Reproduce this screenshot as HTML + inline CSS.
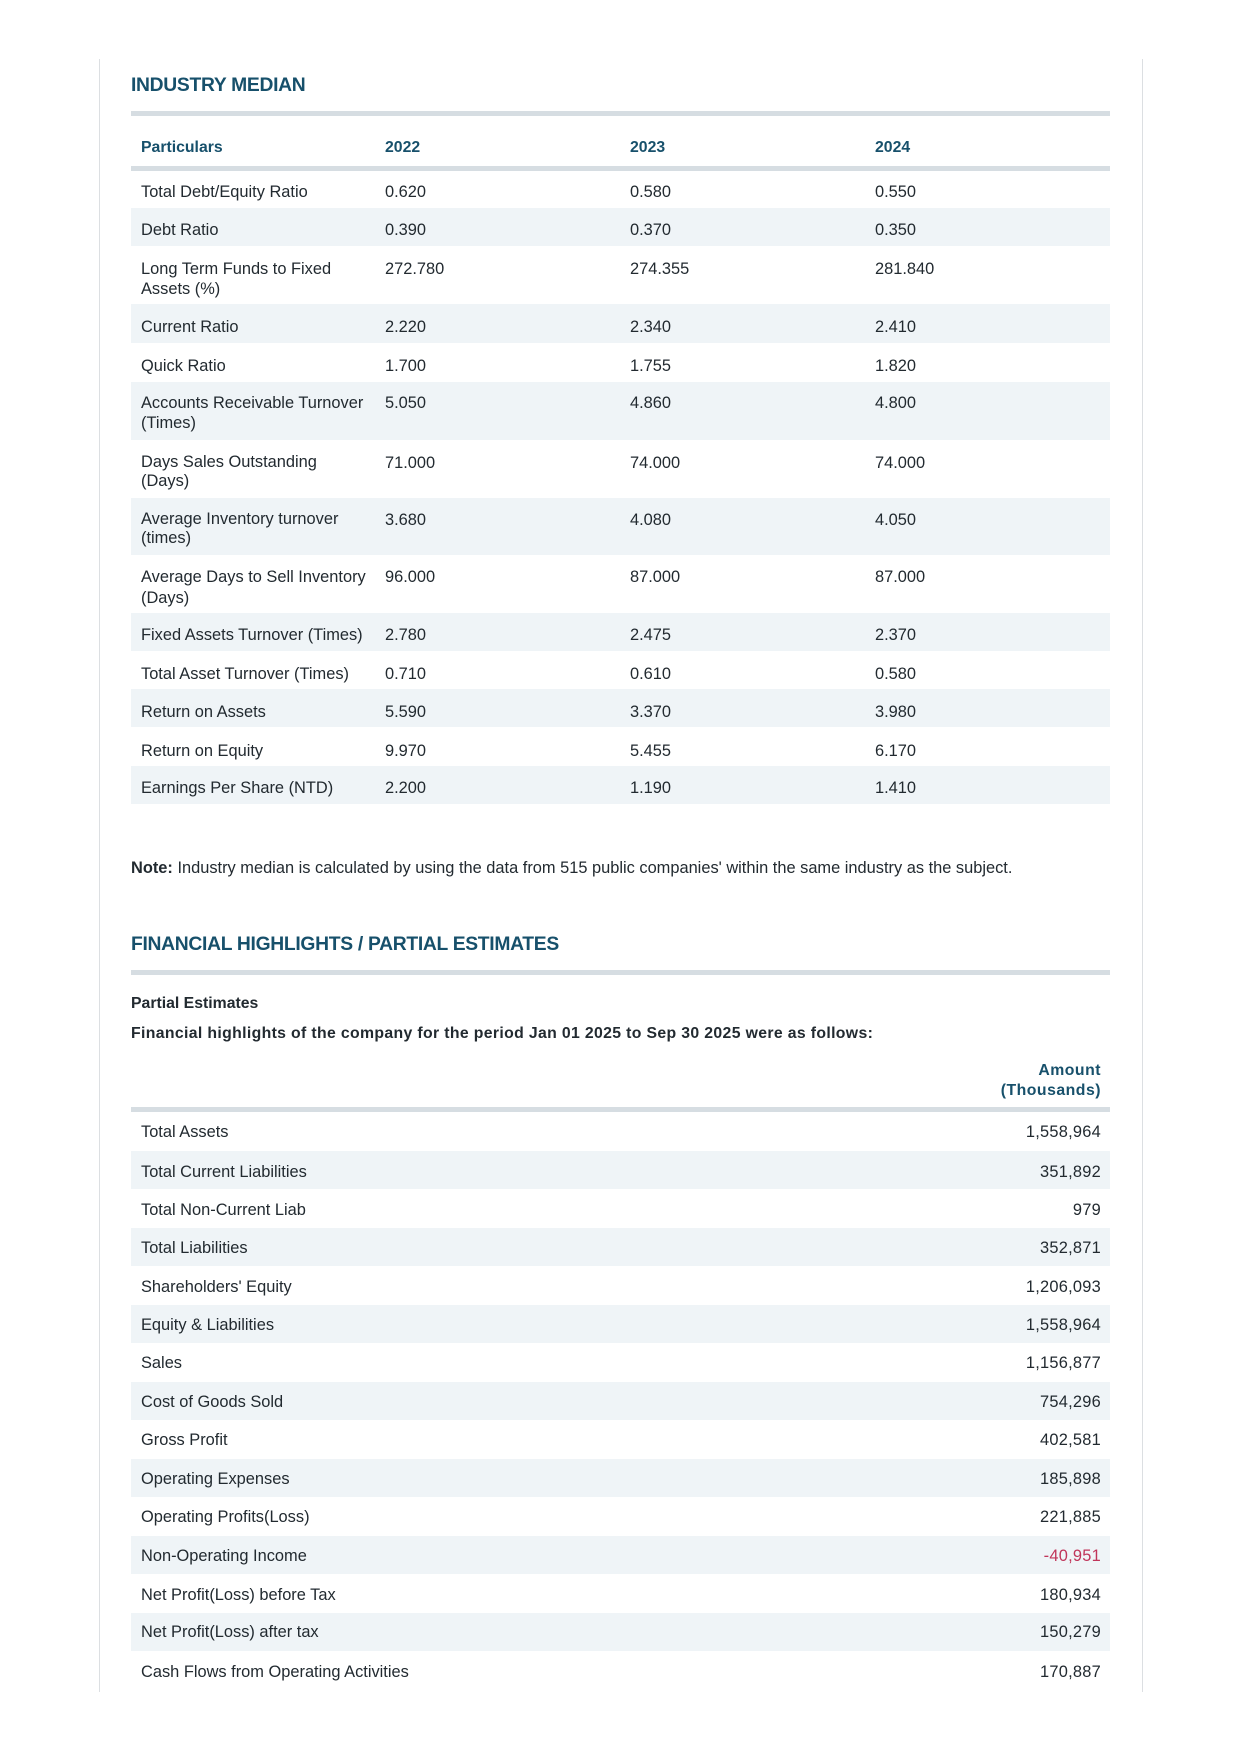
<!DOCTYPE html>
<html><head><meta charset="utf-8"><style>
*{margin:0;padding:0;box-sizing:border-box}
body{width:1240px;height:1754px;background:#fff;position:relative;font-family:"Liberation Sans",sans-serif;color:#222a30;overflow:hidden}
.a{position:absolute;white-space:nowrap;margin-top:3px}
.vb{position:absolute;top:59px;height:1633px;width:1px;background:#dcdfe2}
.h{font-weight:bold;color:#17506b;font-size:19.3px;letter-spacing:-0.3px}
.rule{position:absolute;left:131px;width:979px;height:5px;background:#d6dde2}
.band{position:absolute;left:131px;width:979px;background:#eff4f7}
.t{font-size:16.4px;line-height:20px}
.th{font-size:15.8px;font-weight:bold;color:#17506b}
.r{text-align:right;right:139px;letter-spacing:0.25px}
</style></head><body>
<div class="vb" style="left:99px"></div>
<div class="vb" style="left:1142px"></div>

<div class="a h" style="left:131px;top:72px">INDUSTRY MEDIAN</div>
<div class="rule" style="top:111px"></div>
<div class="a th" style="left:141px;top:136px">Particulars</div>
<div class="a th" style="left:385px;top:136px">2022</div>
<div class="a th" style="left:630px;top:136px">2023</div>
<div class="a th" style="left:875px;top:136px">2024</div>
<div class="rule" style="top:166px"></div>

<div class="band" style="top:208px;height:38px"></div>
<div class="band" style="top:304px;height:39px"></div>
<div class="band" style="top:382px;height:58px"></div>
<div class="band" style="top:498px;height:57px"></div>
<div class="band" style="top:613px;height:38px"></div>
<div class="band" style="top:689px;height:38px"></div>
<div class="band" style="top:766px;height:38px"></div>

<div class="a t" style="left:141px;top:179px">Total Debt/Equity Ratio</div><div class="a t" style="left:385px;top:179px">0.620</div><div class="a t" style="left:630px;top:179px">0.580</div><div class="a t" style="left:875px;top:179px">0.550</div>
<div class="a t" style="left:141px;top:217px">Debt Ratio</div><div class="a t" style="left:385px;top:217px">0.390</div><div class="a t" style="left:630px;top:217px">0.370</div><div class="a t" style="left:875px;top:217px">0.350</div>
<div class="a t" style="left:141px;top:256px">Long Term Funds to Fixed<br>Assets (%)</div><div class="a t" style="left:385px;top:256px">272.780</div><div class="a t" style="left:630px;top:256px">274.355</div><div class="a t" style="left:875px;top:256px">281.840</div>
<div class="a t" style="left:141px;top:314px">Current Ratio</div><div class="a t" style="left:385px;top:314px">2.220</div><div class="a t" style="left:630px;top:314px">2.340</div><div class="a t" style="left:875px;top:314px">2.410</div>
<div class="a t" style="left:141px;top:353px">Quick Ratio</div><div class="a t" style="left:385px;top:353px">1.700</div><div class="a t" style="left:630px;top:353px">1.755</div><div class="a t" style="left:875px;top:353px">1.820</div>
<div class="a t" style="left:141px;top:390px;line-height:20px">Accounts Receivable Turnover<br>(Times)</div><div class="a t" style="left:385px;top:390px">5.050</div><div class="a t" style="left:630px;top:390px">4.860</div><div class="a t" style="left:875px;top:390px">4.800</div>
<div class="a t" style="left:141px;top:450px;line-height:19px">Days Sales Outstanding<br>(Days)</div><div class="a t" style="left:385px;top:450px">71.000</div><div class="a t" style="left:630px;top:450px">74.000</div><div class="a t" style="left:875px;top:450px">74.000</div>
<div class="a t" style="left:141px;top:507px;line-height:19px">Average Inventory turnover<br>(times)</div><div class="a t" style="left:385px;top:507px">3.680</div><div class="a t" style="left:630px;top:507px">4.080</div><div class="a t" style="left:875px;top:507px">4.050</div>
<div class="a t" style="left:141px;top:564px;line-height:21px">Average Days to Sell Inventory<br>(Days)</div><div class="a t" style="left:385px;top:564px">96.000</div><div class="a t" style="left:630px;top:564px">87.000</div><div class="a t" style="left:875px;top:564px">87.000</div>
<div class="a t" style="left:141px;top:622px">Fixed Assets Turnover (Times)</div><div class="a t" style="left:385px;top:622px">2.780</div><div class="a t" style="left:630px;top:622px">2.475</div><div class="a t" style="left:875px;top:622px">2.370</div>
<div class="a t" style="left:141px;top:661px">Total Asset Turnover (Times)</div><div class="a t" style="left:385px;top:661px">0.710</div><div class="a t" style="left:630px;top:661px">0.610</div><div class="a t" style="left:875px;top:661px">0.580</div>
<div class="a t" style="left:141px;top:699px">Return on Assets</div><div class="a t" style="left:385px;top:699px">5.590</div><div class="a t" style="left:630px;top:699px">3.370</div><div class="a t" style="left:875px;top:699px">3.980</div>
<div class="a t" style="left:141px;top:738px">Return on Equity</div><div class="a t" style="left:385px;top:738px">9.970</div><div class="a t" style="left:630px;top:738px">5.455</div><div class="a t" style="left:875px;top:738px">6.170</div>
<div class="a t" style="left:141px;top:775px">Earnings Per Share (NTD)</div><div class="a t" style="left:385px;top:775px">2.200</div><div class="a t" style="left:630px;top:775px">1.190</div><div class="a t" style="left:875px;top:775px">1.410</div>

<div class="a t" style="left:131px;top:855px;font-size:16.4px"><b>Note:</b> Industry median is calculated by using the data from 515 public companies' within the same industry as the subject.</div>

<div class="a h" style="left:131px;top:931px">FINANCIAL HIGHLIGHTS / PARTIAL ESTIMATES</div>
<div class="rule" style="top:970px"></div>
<div class="a t" style="left:131px;top:991px;font-weight:bold;font-size:15.8px">Partial Estimates</div>
<div class="a t" style="left:131px;top:1021px;font-weight:bold;font-size:15.8px;letter-spacing:0.35px">Financial highlights of the company for the period Jan 01 2025 to Sep 30 2025 were as follows:</div>
<div class="a th" style="right:139px;top:1058px;text-align:right;line-height:20px;letter-spacing:0.5px">Amount<br>(Thousands)</div>
<div class="rule" style="top:1107px"></div>

<div class="band" style="top:1151px;height:38px"></div>
<div class="band" style="top:1228px;height:38px"></div>
<div class="band" style="top:1305px;height:38px"></div>
<div class="band" style="top:1382px;height:38px"></div>
<div class="band" style="top:1459px;height:38px"></div>
<div class="band" style="top:1536px;height:38px"></div>
<div class="band" style="top:1613px;height:38px"></div>

<div class="a t" style="left:141px;top:1119px">Total Assets</div><div class="a t r" style="top:1119px">1,558,964</div>
<div class="a t" style="left:141px;top:1159px">Total Current Liabilities</div><div class="a t r" style="top:1159px">351,892</div>
<div class="a t" style="left:141px;top:1197px">Total Non-Current Liab</div><div class="a t r" style="top:1197px">979</div>
<div class="a t" style="left:141px;top:1235px">Total Liabilities</div><div class="a t r" style="top:1235px">352,871</div>
<div class="a t" style="left:141px;top:1274px">Shareholders' Equity</div><div class="a t r" style="top:1274px">1,206,093</div>
<div class="a t" style="left:141px;top:1312px">Equity &amp; Liabilities</div><div class="a t r" style="top:1312px">1,558,964</div>
<div class="a t" style="left:141px;top:1350px">Sales</div><div class="a t r" style="top:1350px">1,156,877</div>
<div class="a t" style="left:141px;top:1389px">Cost of Goods Sold</div><div class="a t r" style="top:1389px">754,296</div>
<div class="a t" style="left:141px;top:1427px">Gross Profit</div><div class="a t r" style="top:1427px">402,581</div>
<div class="a t" style="left:141px;top:1466px">Operating Expenses</div><div class="a t r" style="top:1466px">185,898</div>
<div class="a t" style="left:141px;top:1504px">Operating Profits(Loss)</div><div class="a t r" style="top:1504px">221,885</div>
<div class="a t" style="left:141px;top:1543px">Non-Operating Income</div><div class="a t r" style="top:1543px;color:#c0355a">-40,951</div>
<div class="a t" style="left:141px;top:1582px">Net Profit(Loss) before Tax</div><div class="a t r" style="top:1582px">180,934</div>
<div class="a t" style="left:141px;top:1619px">Net Profit(Loss) after tax</div><div class="a t r" style="top:1619px">150,279</div>
<div class="a t" style="left:141px;top:1659px">Cash Flows from Operating Activities</div><div class="a t r" style="top:1659px">170,887</div>
</body></html>
